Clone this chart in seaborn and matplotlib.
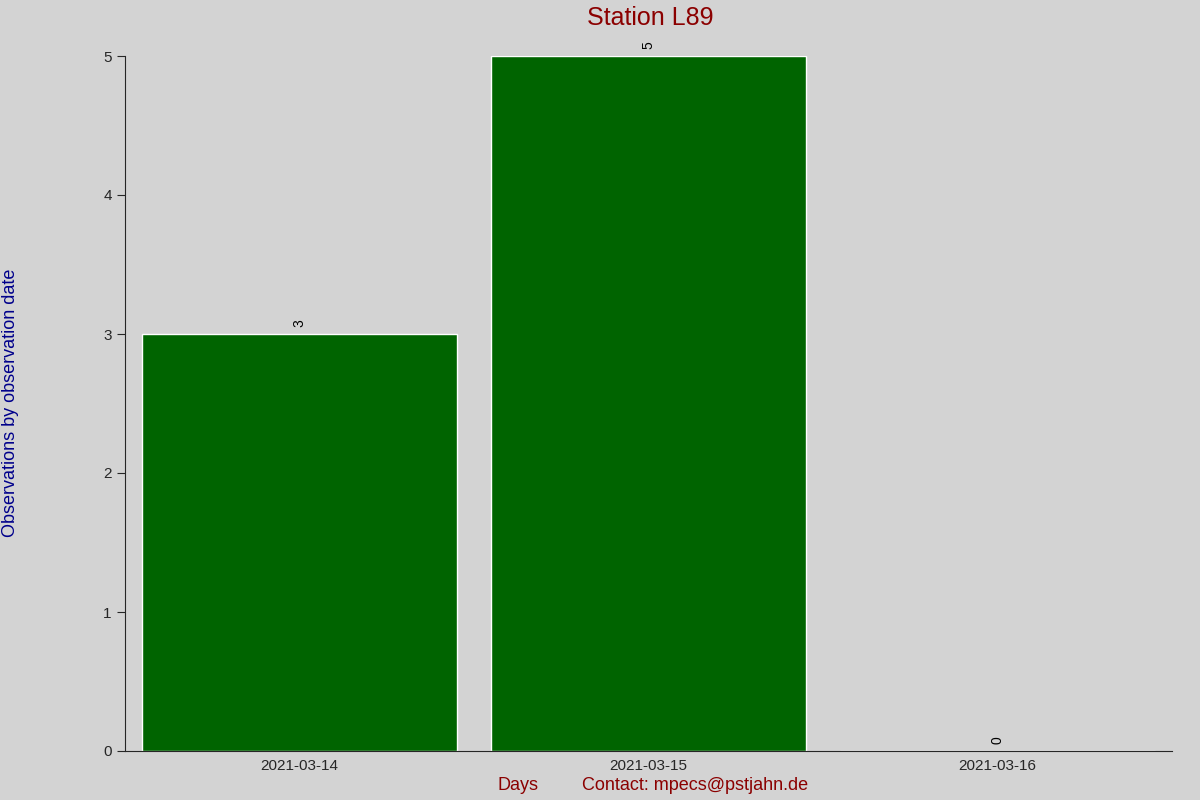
import matplotlib
matplotlib.use("Agg")
import matplotlib.pyplot as plt
import seaborn as sns
import pandas as pd

# Data
days = ["2021-03-14", "2021-03-15", "2021-03-16"]
counts = [3, 5, 0]

df = pd.DataFrame({"day": days, "count": counts})

sns.set_style("ticks")
plt.rcParams['font.family'] = ['Liberation Sans', 'DejaVu Sans']

bg = "#d3d3d3"
fig = plt.figure(figsize=(12, 8), dpi=100, facecolor=bg)
ax = fig.add_axes([125/1200, 1 - 751/800, 1047/1200, 695/800], facecolor=bg)

sns.barplot(data=df, x="day", y="count", color="#006400", width=0.9,
            saturation=1, ax=ax)

for i, v in enumerate(counts):
    ax.text(i, v + 0.05, str(v), rotation=90, ha="center", va="bottom",
            fontsize=10, color="black")

ax.set_xlim(-0.5, 2.5)
ax.set_ylim(0, 5)
ax.set_yticks(range(6))
ax.tick_params(axis="x", length=0, labelsize=11, pad=6)
ax.tick_params(axis="y", length=6, labelsize=11)
ax.spines["top"].set_visible(False)
ax.spines["right"].set_visible(False)
ax.set_xlabel("")
ax.set_ylabel("")

fig.text(0.5417, 1 - 18/800, "Station L89", ha="center", va="center",
         fontsize=18, color="#8b0000")
fig.text(518/1200, 1 - 786/800, "Days", ha="center", va="center",
         fontsize=13, color="#8b0000")
fig.text(695/1200, 1 - 786/800, "Contact: mpecs@pstjahn.de", ha="center",
         va="center", fontsize=13, color="#8b0000")
fig.text(11/1200, 1 - 403/800, "Observations by observation date",
         rotation=90, ha="center", va="center", fontsize=13, color="#00008b")

fig.savefig("out.png", dpi=100, facecolor=bg)
